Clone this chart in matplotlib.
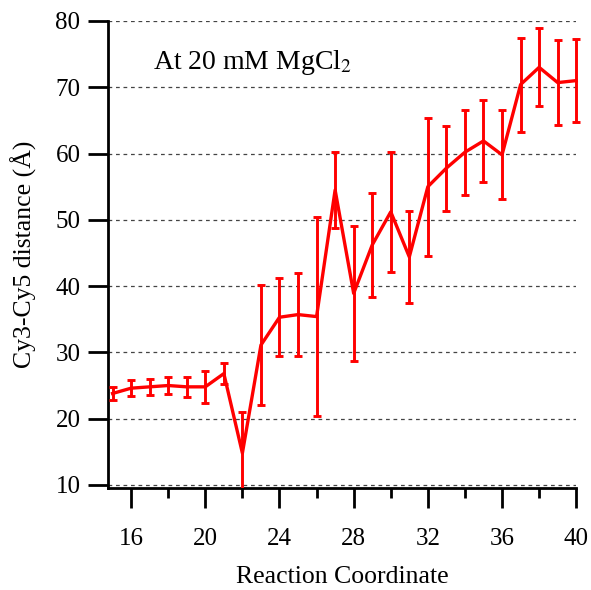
import matplotlib
matplotlib.use("Agg")
from matplotlib import pyplot as plt
from matplotlib.ticker import MultipleLocator
from matplotlib.patches import Rectangle

plt.rcParams['font.family'] = ['Liberation Serif', 'DejaVu Serif']

# reaction coordinate and Cy3-Cy5 distance
coord = [15, 16, 17, 18, 19, 20, 21, 22, 23, 24, 25, 26, 27,
         28, 29, 30, 31, 32, 33, 34, 35, 36, 37, 38, 39, 40]
dist = [23.8, 24.6, 24.8, 25.0, 24.8, 24.8, 26.8, 14.8, 31.1, 35.3, 35.7, 35.4, 54.5,
        38.9, 46.2, 51.2, 44.4, 55.0, 57.8, 60.2, 61.9, 59.8, 70.4, 73.0, 70.7, 71.0]
err = [1.0, 1.2, 1.2, 1.3, 1.5, 2.4, 1.6, 6.2, 9.0, 5.9, 6.3, 15.0, 5.7,
       10.2, 7.9, 9.0, 7.0, 10.4, 6.4, 6.4, 6.2, 6.7, 7.1, 5.9, 6.4, 6.3]

fig = plt.figure(figsize=(5.91, 5.90), dpi=100)
ax = fig.add_axes([0.182, 0.173, 0.793, 0.7915])

cont = ax.errorbar(coord, dist, yerr=err, color='#ff0000', lw=2.4, elinewidth=2.1,
                   capsize=2.7, capthick=2.1, zorder=3)

# clip only at the bottom of the axes, let the last point stick out to the right
clip = Rectangle((-0.05, 0), 1.1, 1.1, transform=ax.transAxes, visible=False)
ax.add_patch(clip)
for a in [cont.lines[0]] + list(cont.lines[1]) + list(cont.lines[2]):
    a.set_clip_path(clip)

ax.set_xlim(14.73, 40)
ax.set_ylim(9.55, 80)

# dashed horizontal grid
ax.yaxis.grid(True, linestyle=(0, (3, 3)), color='#444444', lw=0.9)
ax.set_axisbelow(True)

for s in ['top', 'right']:
    ax.spines[s].set_visible(False)
for s in ['left', 'bottom']:
    ax.spines[s].set_linewidth(2.0)

ax.set_xticks(range(16, 41, 4))
ax.xaxis.set_minor_locator(MultipleLocator(2))
ax.set_yticks(range(10, 81, 10))
ax.tick_params(axis='both', which='major', direction='out', length=14.5, width=2.0,
               labelsize=18)
ax.tick_params(axis='y', which='major', pad=5)
ax.tick_params(axis='x', which='major', pad=14)
ax.tick_params(axis='x', which='minor', direction='out', length=7.5, width=2.0)

ax.set_xlabel('Reaction Coordinate', fontsize=18.5, labelpad=12)
ax.set_ylabel('Cy3-Cy5 distance (Å)', fontsize=18.5, labelpad=13)

ax.text(0.098, 0.912, 'At 20 mM MgCl$_2$', transform=ax.transAxes, fontsize=20,
        ha='left', va='center', math_fontfamily='stix')

fig.savefig('out.png', dpi=100)
